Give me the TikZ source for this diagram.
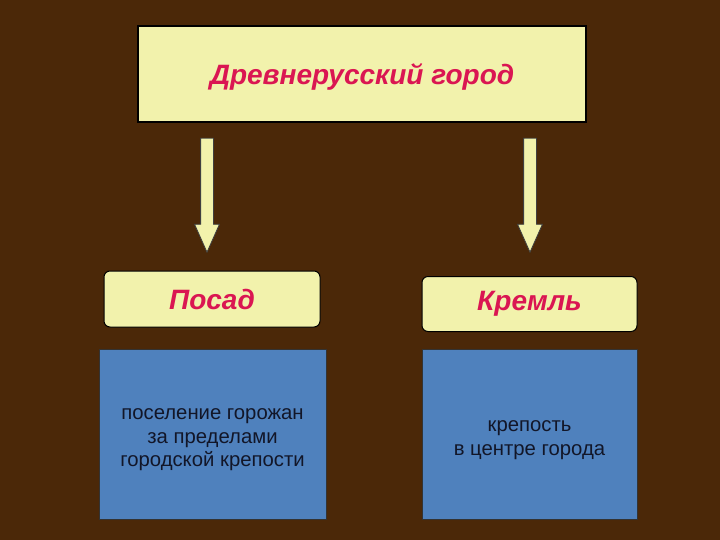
\documentclass[tikz,border=0pt]{standalone}
\usepackage{fontspec}
\setmainfont{Liberation Sans}
\usetikzlibrary{shapes.arrows}
\definecolor{bgbrown}{RGB}{75,40,8}
\definecolor{paleyellow}{RGB}{242,242,172}
\definecolor{crimsontxt}{RGB}{218,22,82}
\definecolor{boxblue}{RGB}{79,129,189}
\definecolor{navytxt}{RGB}{18,22,40}
\begin{document}
\begin{tikzpicture}[x=1pt,y=-1pt]
    \tikzstyle{every node}+=[inner sep=0pt]
    \tikzstyle{headbox}=[draw=black,line width=1.2pt,fill=paleyellow,font=\fontsize{28}{32}\selectfont\bfseries\itshape,text=crimsontxt]
    \tikzstyle{infobox}=[draw=black!80,line width=0.8pt,fill=boxblue,minimum height=170pt]
    \tikzstyle{infotext}=[font=\fontsize{20.3}{23.5}\selectfont,text=navytxt,align=center]
    \tikzstyle{downarrow}=[single arrow,draw=black!75,line width=0.8pt,fill=paleyellow,rotate=-90,inner sep=6pt,single arrow head extend=6pt,single arrow tip angle=48,minimum height=114pt,minimum width=24pt]
    \fill [bgbrown] (0,0) rectangle (720,540);
    \node [headbox,minimum width=448pt,minimum height=96pt] (city) at (362,74) {};
    \node [headbox,draw=none,fill=none] (citytxt) at (362,77) {Древнерусский город};
    \node [headbox,rounded corners=6pt,line width=1pt,minimum width=216pt,minimum height=56pt] (posad) at (212,299) {Посад};
    \node [headbox,rounded corners=6pt,line width=1pt,minimum width=215pt,minimum height=55pt] (kreml) at (529.5,304) {Кремль};
    \node [infobox,minimum width=227pt] (posadinfo) at (212.5,434) {};
    \node [infotext] (posadtxt) at ([yshift=-6pt]posadinfo.center) {поселение горожан\\за пределами\\городской крепости};
    \node [infobox,minimum width=215pt] (kremlinfo) at (529.5,434) {};
    \node [infotext] (kremltxt) at ([yshift=-6pt]kremlinfo.center) {крепость\\в центре города};
    \node [downarrow] (arrposad) at (207,188) {};
    \node [downarrow] (arrkreml) at (530,188) {};
\end{tikzpicture}
\end{document}
